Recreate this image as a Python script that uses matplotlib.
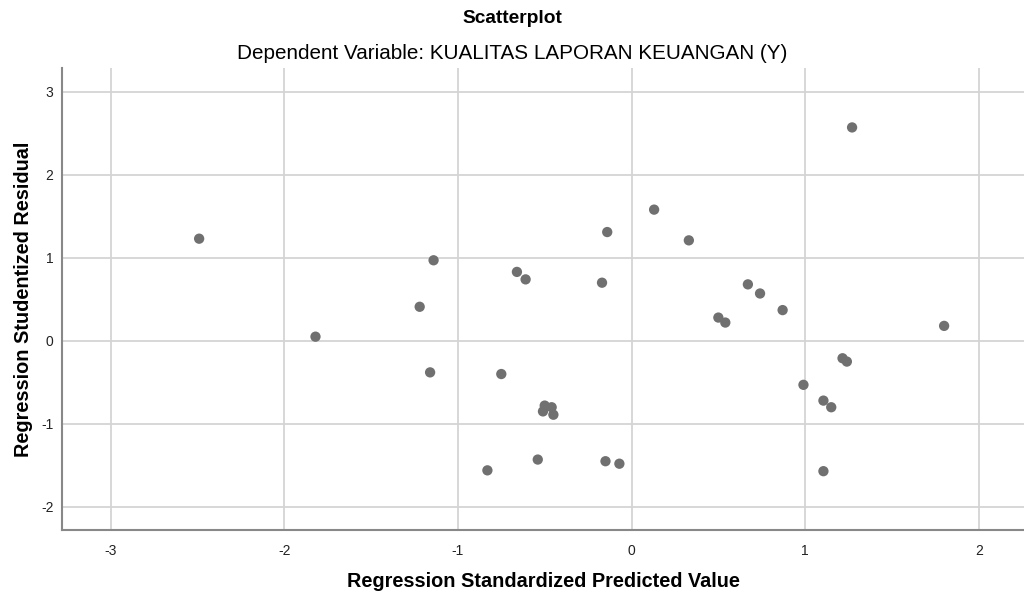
import numpy as np
import matplotlib
matplotlib.use("Agg")
import matplotlib.pyplot as plt

plt.rcParams['font.family'] = ['Liberation Sans', 'DejaVu Sans']
plt.rcParams['axes.unicode_minus'] = False

# Regression standardized predicted value (x) vs studentized residual (y)
pred = [-2.49, -1.82, -1.14, -1.22, -1.16, -0.75, -0.83, -0.66, -0.61, -0.54,
        -0.50, -0.51, -0.46, -0.45, -0.15, -0.07, -0.17, -0.14, 0.13, 0.33,
        0.67, 0.74, 0.87, 0.50, 0.54, 1.27, 1.80, 1.215, 1.24, 0.99,
        1.105, 1.15, 1.105]
resid = [1.23, 0.05, 0.97, 0.41, -0.38, -0.40, -1.56, 0.83, 0.74, -1.43,
         -0.78, -0.85, -0.80, -0.89, -1.45, -1.48, 0.70, 1.31, 1.58, 1.21,
         0.68, 0.57, 0.37, 0.28, 0.22, 2.57, 0.18, -0.21, -0.25, -0.53,
         -0.72, -0.80, -1.57]

xticks = [-3, -2, -1, 0, 1, 2]
yticks = [-2, -1, 0, 1, 2, 3]

fig = plt.figure(figsize=(10.24, 5.97), dpi=100)
ax = fig.add_axes([0.0605, 0.112, 0.9395, 0.774])

ax.scatter(pred, resid, s=55, color='#707070', edgecolors='none', zorder=3)

ax.set_xlim(-3.28, 2.26)
ax.set_ylim(-2.28, 3.285)
ax.set_xticks(xticks)
ax.set_yticks(yticks)
ax.grid(True, color='#d4d4d4', linewidth=1.3)
ax.set_axisbelow(True)
ax.tick_params(length=0, labelsize=10, colors='#222222')
ax.tick_params(axis='x', pad=10)
ax.tick_params(axis='y', pad=6)

for side in ['top', 'right']:
    ax.spines[side].set_visible(False)
for side in ['left', 'bottom']:
    ax.spines[side].set_color('#888888')
    ax.spines[side].set_linewidth(1.5)

ax.set_xlabel('Regression Standardized Predicted Value', fontsize=14.3,
              fontweight='bold', labelpad=10)
ax.set_ylabel('Regression Studentized Residual', fontsize=14.3,
              fontweight='bold', labelpad=6)

fig.text(0.5, 0.969, 'Scatterplot', ha='center', va='center', fontsize=13.8,
         fontweight='bold')
fig.text(0.5, 0.911, 'Dependent Variable: KUALITAS LAPORAN KEUANGAN (Y)',
         ha='center', va='center', fontsize=14.9)

fig.savefig('out.png', dpi=100, facecolor='white')
